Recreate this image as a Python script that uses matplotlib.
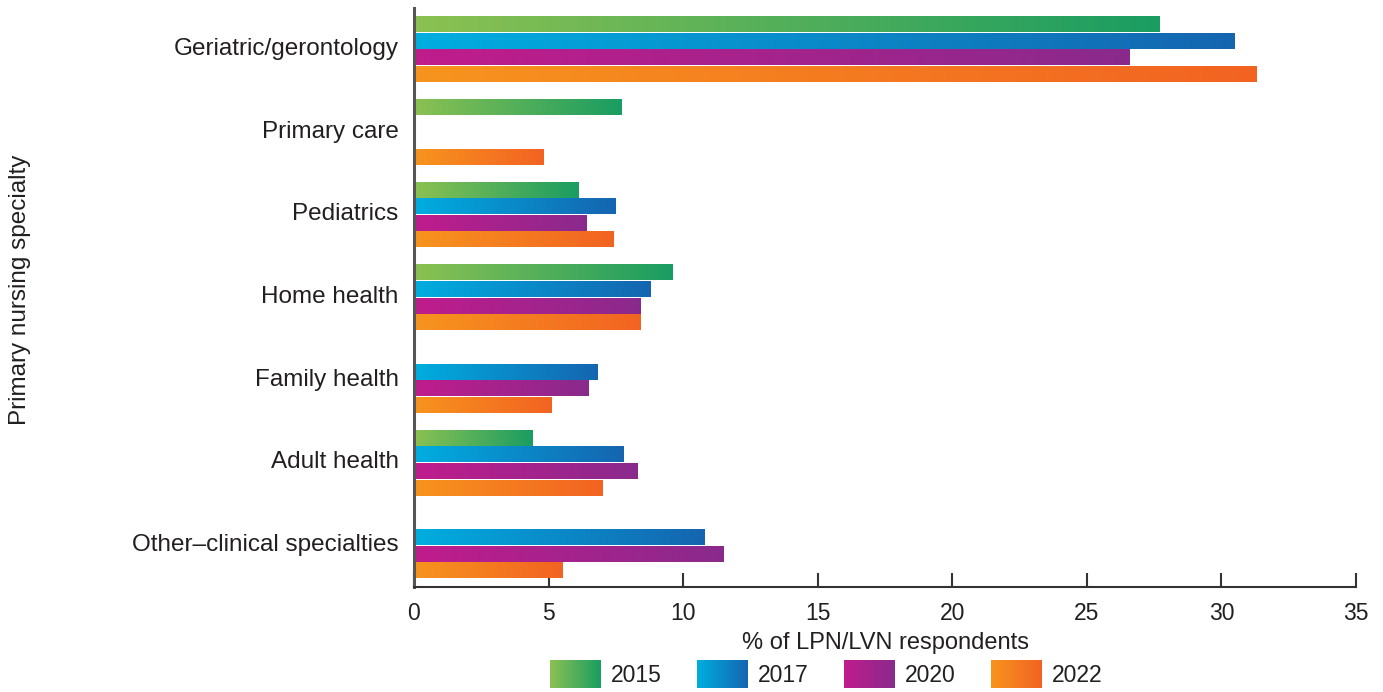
import numpy as np
import matplotlib
matplotlib.use("Agg")
import matplotlib.pyplot as plt
from matplotlib.colors import LinearSegmentedColormap
from matplotlib.legend_handler import HandlerBase
from matplotlib.image import BboxImage
from matplotlib.transforms import Bbox, TransformedBbox, ScaledTranslation
from matplotlib.patches import Rectangle

plt.rcParams['font.family'] = ['Liberation Sans', 'DejaVu Sans']

# data
specialties = ['Geriatric/gerontology', 'Primary care', 'Pediatrics', 'Home health',
               'Family health', 'Adult health', 'Other\u2013clinical specialties']
years = ['2015', '2017', '2020', '2022']
v2015 = [27.7, 7.7, 6.1, 9.6, np.nan, 4.4, np.nan]
v2017 = [30.5, np.nan, 7.5, 8.8, 6.8, 7.8, 10.8]
v2020 = [26.6, np.nan, 6.4, 8.4, 6.5, 8.3, 11.5]
v2022 = [31.3, 4.8, 7.4, 8.4, 5.1, 7.0, 5.5]
series = [v2015, v2017, v2020, v2022]

# gradient start/end colours per year
grads = [('#8cc152', '#1a9d62'),
         ('#00aee0', '#1565b0'),
         ('#c01c8c', '#8a2a8c'),
         ('#f7941e', '#f26322')]

text_col = '#231f20'

fig = plt.figure(figsize=(13.83, 6.92), dpi=100)
ax = fig.add_axes([414 / 1383, 1 - 587 / 692, (1356 - 414) / 1383, (587 - 8) / 692])

y = np.arange(len(specialties))
slot = 0.2
offsets = [-0.3, -0.1, 0.1, 0.3]
ramp = np.linspace(0, 1, 256).reshape(1, -1)

for vals, off, (c0, c1) in zip(series, offsets, grads):
    cmap = LinearSegmentedColormap.from_list('g', [c0, c1])
    bars = ax.barh(y + off, vals, height=slot * 0.94, color='none', edgecolor='none')
    for b in bars:
        w = b.get_width()
        if not np.isfinite(w) or w <= 0:
            continue
        x0, y0, h = b.get_x(), b.get_y(), b.get_height()
        ax.imshow(ramp, cmap=cmap, aspect='auto', interpolation='bilinear',
                  extent=(x0, x0 + w, y0 + h, y0), zorder=2)

ax.set_xlim(0, 35)
ax.set_ylim(len(specialties) - 0.5, -0.5)
ax.set_xticks(np.arange(0, 36, 5))
ax.set_yticks(y)
ax.set_yticklabels(specialties)

for s in ['top', 'right']:
    ax.spines[s].set_visible(False)
ax.spines['left'].set_color('#555555')
ax.spines['left'].set_linewidth(2.2)
ax.spines['bottom'].set_color('#333333')
ax.spines['bottom'].set_linewidth(1.5)
ax.tick_params(axis='x', direction='in', length=10, width=1.5, color='#333333',
               labelsize=16.5, labelcolor=text_col, pad=11)
ax.tick_params(axis='y', length=0, labelsize=17.5, labelcolor=text_col, pad=11)

# nudge category labels up a little
shift = ScaledTranslation(0, 3 / 100, fig.dpi_scale_trans)
for lbl in ax.get_yticklabels():
    lbl.set_transform(lbl.get_transform() + shift)

ax.set_xlabel('% of LPN/LVN respondents', fontsize=17, color=text_col, labelpad=5)
fig.text(20 / 1383, 1 - 290 / 692, 'Primary nursing specialty', rotation=90,
         ha='center', va='center', fontsize=17.5, color=text_col)


class GradHandler(HandlerBase):
    def __init__(self, c0, c1):
        super().__init__()
        self.cmap = LinearSegmentedColormap.from_list('g', [c0, c1])

    def create_artists(self, legend, orig_handle, xdescent, ydescent, width,
                       height, fontsize, trans):
        bb = TransformedBbox(Bbox.from_bounds(-xdescent, -ydescent, width, height), trans)
        img = BboxImage(bb, cmap=self.cmap, interpolation='bilinear')
        img.set_data(ramp)
        return [img]


handles = [Rectangle((0, 0), 1, 1) for _ in years]
hmap = {h: GradHandler(c0, c1) for h, (c0, c1) in zip(handles, grads)}
leg = fig.legend(handles, years, handler_map=hmap, loc='center',
                 bbox_to_anchor=(826 / 1383, 1 - 674 / 692), ncol=4, frameon=False,
                 fontsize=16.5, handlelength=2.2, handleheight=1.5,
                 handletextpad=0.45, columnspacing=1.55, borderpad=0)
for t in leg.get_texts():
    t.set_color(text_col)

fig.savefig('out.png', dpi=100)
